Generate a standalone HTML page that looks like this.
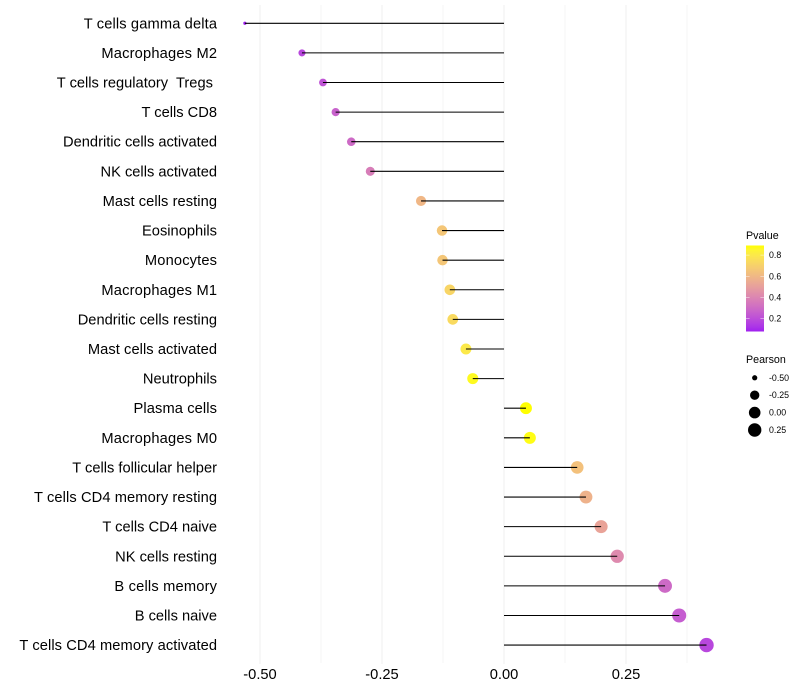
<!DOCTYPE html>
<html lang="en">
<head>
<meta charset="utf-8">
<title>Immune cell correlation lollipop chart</title>
<style>
html,body{margin:0;padding:0;background:#fff;}
svg{display:block;font-family:"Liberation Sans",sans-serif;}
text{white-space:pre;}
</style>
</head>
<body>
<svg id="chart" width="800" height="700" viewBox="0 0 800 700" xmlns="http://www.w3.org/2000/svg">
<defs><linearGradient id="pgrad" x1="0" y1="1" x2="0" y2="0"></linearGradient></defs>
<rect x="0" y="0" width="800" height="700" fill="#ffffff"/>
<g id="grid"></g>
<g id="points"></g>
<g id="stems"></g>
<g id="ylabels"></g>
<g id="xlabels"></g>
<g id="legend-color">
<text x="746" y="239" font-size="10.7" fill="#000">Pvalue</text>
<rect x="746" y="245.5" width="18" height="86" fill="url(#pgrad)"/>
</g>
<g id="legend-size">
<text x="746" y="363" font-size="10.7" fill="#000">Pearson</text>
</g>
</svg>
<script>
const categories = ["T cells gamma delta","Macrophages M2","T cells regulatory  Tregs ","T cells CD8","Dendritic cells activated","NK cells activated","Mast cells resting","Eosinophils","Monocytes","Macrophages M1","Dendritic cells resting","Mast cells activated","Neutrophils","Plasma cells","Macrophages M0","T cells follicular helper","T cells CD4 memory resting","T cells CD4 naive","NK cells resting","B cells memory","B cells naive","T cells CD4 memory activated"];
const pearson = [-0.531,-0.414,-0.371,-0.345,-0.313,-0.274,-0.170,-0.127,-0.126,-0.111,-0.105,-0.078,-0.064,0.045,0.053,0.150,0.168,0.199,0.232,0.330,0.359,0.415];
const pvalues = [0.08,0.18,0.22,0.27,0.30,0.37,0.60,0.66,0.66,0.72,0.74,0.80,0.87,0.89,0.88,0.64,0.58,0.52,0.42,0.30,0.25,0.18];
const xMajorTicks = [-0.5,-0.25,0,0.25];
const xMinorTicks = [-0.375,-0.125,0.125,0.375];
const xTickLabels = ["-0.50","-0.25","0.00","0.25"];
const pvalueLegendTicks = [0.2,0.4,0.6,0.8];
const pvalueLegendLabels = ["0.2","0.4","0.6","0.8"];
const pearsonLegendValues = [-0.5,-0.25,0,0.25];
const pearsonLegendLabels = ["-0.50","-0.25","0.00","0.25"];

const NS = "http://www.w3.org/2000/svg";
const xScale = v => 504 + 488 * v;
const yScale = i => 23.28 + i * 29.61;
const pMin = Math.min(...pvalues), pMax = Math.max(...pvalues);
const sMin = Math.min(...pearson), sMax = Math.max(...pearson);
const rScale = v => 1.6 + 5.6 * Math.sqrt(Math.max(0, (v - sMin) / (sMax - sMin)));
const legY = p => 318.7 - (p - 0.2) * 106;

function make(tag, parent, attrs) {
  const el = document.createElementNS(NS, tag);
  for (const k in attrs) el.setAttribute(k, attrs[k]);
  parent.appendChild(el);
  return el;
}
function toLab(rgb) {
  const f = c => { c /= 255; return c > 0.04045 ? Math.pow((c + 0.055) / 1.055, 2.4) : c / 12.92; };
  const [r, g, b] = rgb.map(f);
  const X = (0.4124 * r + 0.3576 * g + 0.1805 * b) / 0.95047;
  const Y = 0.2126 * r + 0.7152 * g + 0.0722 * b;
  const Z = (0.0193 * r + 0.1192 * g + 0.9505 * b) / 1.08883;
  const h = t => t > 0.008856 ? Math.cbrt(t) : 7.787 * t + 16 / 116;
  return [116 * h(Y) - 16, 500 * (h(X) - h(Y)), 200 * (h(Y) - h(Z))];
}
function fromLab(lab) {
  const fy = (lab[0] + 16) / 116, fx = fy + lab[1] / 500, fz = fy - lab[2] / 200;
  const h = t => t * t * t > 0.008856 ? t * t * t : (t - 16 / 116) / 7.787;
  const X = h(fx) * 0.95047, Y = h(fy), Z = h(fz) * 1.08883;
  const lin = [3.2406 * X - 1.5372 * Y - 0.4986 * Z, -0.9689 * X + 1.8758 * Y + 0.0415 * Z, 0.0557 * X - 0.204 * Y + 1.057 * Z];
  const g = c => { c = Math.max(0, Math.min(1, c)); return Math.round(255 * (c > 0.0031308 ? 1.055 * Math.pow(c, 1 / 2.4) - 0.055 : 12.92 * c)); };
  return "rgb(" + lin.map(g).join(",") + ")";
}
const labLow = toLab([160, 32, 240]), labHigh = toLab([255, 255, 0]);
const colorAt = t => fromLab(labLow.map((v, i) => v + (labHigh[i] - v) * t));
const colorScale = p => colorAt(Math.max(0, Math.min(1, (p - pMin) / (pMax - pMin))));

const grid = document.getElementById("grid");
xMinorTicks.forEach(v => {
  const l = make("line", grid, {x1: xScale(v), x2: xScale(v), y1: 5, y2: 663, stroke: "#f0f0f0", "stroke-width": 0.7});
  
  
});
xMajorTicks.forEach(v => {
  const l = make("line", grid, {x1: xScale(v), x2: xScale(v), y1: 5, y2: 664, stroke: "#eeeeee", "stroke-width": 0.9});
  
  
});

const points = document.getElementById("points");
const stems = document.getElementById("stems");
const ylabels = document.getElementById("ylabels");
categories.forEach((name, i) => {
  const c = make("circle", points, {cx: xScale(pearson[i]), cy: yScale(i), r: rScale(pearson[i]), fill: colorScale(pvalues[i])});
  
  
  const s = make("line", stems, {x1: xScale(0), x2: xScale(pearson[i]), y1: yScale(i), y2: yScale(i), stroke: "#000", "stroke-width": 1.07});
  
  
  const t = make("text", ylabels, {x: 217, y: yScale(i) + 5, "text-anchor": "end", "font-size": 14.67, fill: "#000"});
  
  
  t.textContent = name;
  const wideGlyphs = (name.match(/[Mm]/g) || []).length;
  t.setAttribute('textLength', (t.getComputedTextLength() + 1.2 * wideGlyphs).toFixed(2));
  t.setAttribute('lengthAdjust', 'spacing');
});

const xlabels = document.getElementById("xlabels");
xMajorTicks.forEach((v, i) => {
  const t = make("text", xlabels, {x: xScale(v), y: 679, "text-anchor": "middle", "font-size": 14.67, fill: "#000"});
  
  
  t.textContent = xTickLabels[i];
});

const grad = document.getElementById("pgrad");
for (let k = 0; k <= 20; k++) {
  make("stop", grad, {offset: (k / 20), "stop-color": colorAt(k / 20)});
}
const legC = document.getElementById("legend-color");
pvalueLegendTicks.forEach((p, i) => {
  const y = legY(p);
  const a = make("line", legC, {x1: 746, x2: 749.6, y1: y, y2: y, stroke: "#fff", "stroke-width": 0.55, "stroke-opacity": 0.8});
  
  
  const b = make("line", legC, {x1: 760.4, x2: 764, y1: y, y2: y, stroke: "#fff", "stroke-width": 0.55, "stroke-opacity": 0.8});
  
  
  const t = make("text", legC, {x: 769, y: y + 3, "font-size": 8.8, fill: "#000"});
  
  
  t.textContent = pvalueLegendLabels[i];
});

const legS = document.getElementById("legend-size");
pearsonLegendValues.forEach((v, i) => {
  const y = 377.8 + i * 17.4;
  const c = make("circle", legS, {cx: 754.7, cy: y, r: rScale(v), fill: "#000"});
  
  
  const t = make("text", legS, {x: 769, y: y + 3, "font-size": 8.8, fill: "#000"});
  
  
  t.textContent = pearsonLegendLabels[i];
});
</script>
</body>
</html>
